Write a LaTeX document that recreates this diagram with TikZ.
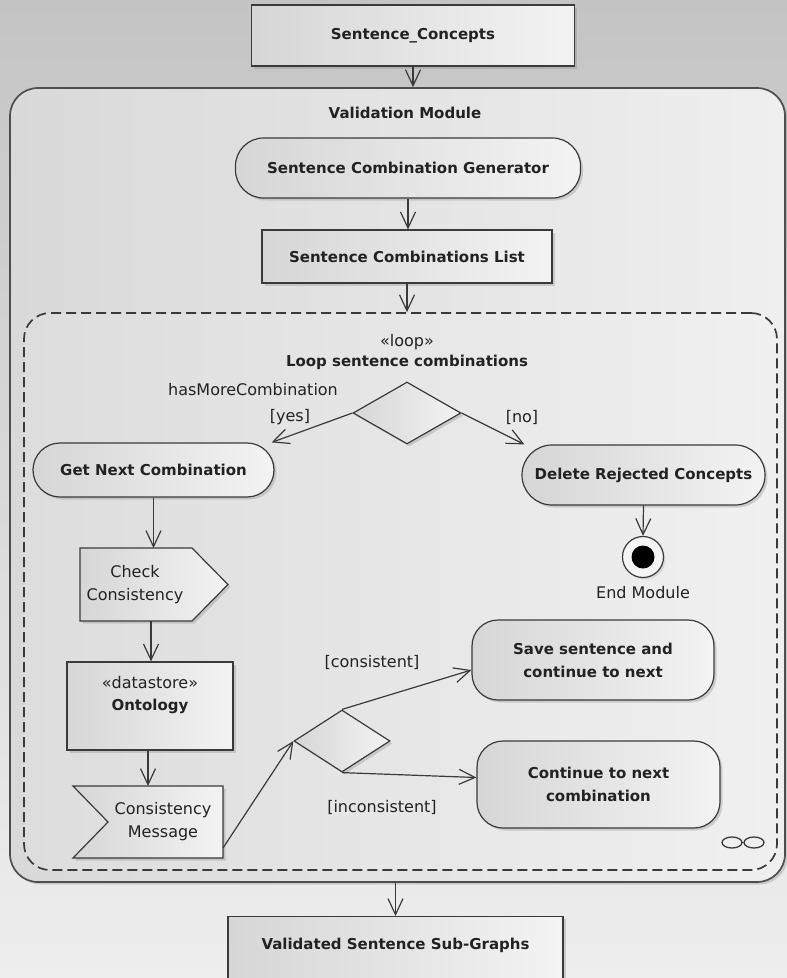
\documentclass[tikz,border=0pt]{standalone}
\usepackage{fontspec}
\setmainfont{DejaVu Sans}
\usetikzlibrary{arrows.meta,shapes.geometric,shadows}

\definecolor{edge}{HTML}{3A3A3A}
\definecolor{fillL}{HTML}{D6D6D6}
\definecolor{fillR}{HTML}{F3F3F3}
\definecolor{bgT}{HTML}{C4C4C4}
\definecolor{bgB}{HTML}{EEEEEE}
\definecolor{modL}{HTML}{D9D9D9}
\definecolor{modR}{HTML}{EFEFEF}
\definecolor{loopL}{HTML}{DDDDDD}
\definecolor{loopR}{HTML}{F0F0F0}
\definecolor{ink}{HTML}{222222}

\tikzset{
  base/.style={draw=edge, line width=1.2pt, left color=fillL, right color=fillR,
    drop shadow={shadow xshift=2.5pt, shadow yshift=-2.5pt, opacity=0.3},
    font=\bfseries\fontsize{15}{23}\selectfont, text=ink, align=center, inner sep=0pt},
  actbox/.style={base, rectangle},
  pill/.style={base, rounded corners=#1},
  pill/.default=26pt,
  outline/.style={draw=edge, line width=1.2pt, left color=fillL, right color=fillR,
    drop shadow={shadow xshift=2.5pt, shadow yshift=-2.5pt, opacity=0.3}},
  flow/.style={draw=edge, line width=1.2pt,
    -{Straight Barb[length=16pt, width=15pt, line width=1.2pt]}},
  lbl/.style={font=\fontsize{16}{23}\selectfont, text=ink, inner sep=0pt, align=center},
  ttl/.style={font=\bfseries\fontsize{15}{23}\selectfont, text=ink, inner sep=0pt, align=center},
  anchorbox/.style={inner sep=0pt, outer sep=0pt},
}

\begin{document}
\begin{tikzpicture}[x=1pt, y=-1pt]
  \clip (0,0) rectangle (787,978);
  \shade[top color=bgT, bottom color=bgB] (0,0) rectangle (787,978);

  % input object
  \node[actbox, minimum width=323pt, minimum height=61pt] (concepts) at (413,35.5) {Sentence\_Concepts};

  % module frame
  \node[draw=edge!90, line width=1.7pt, rounded corners=28pt, left color=modL, right color=modR,
        drop shadow={shadow xshift=2.5pt, shadow yshift=-2.5pt, opacity=0.3},
        minimum width=775pt, minimum height=794pt, inner sep=0pt] (module) at (397.5,485) {};
  \node[ttl] (modtitle) at (405,113) {Validation Module};

  \node[pill=28pt, minimum width=345pt, minimum height=60pt] (gen) at (408,168) {Sentence Combination Generator};
  \node[actbox, minimum width=290pt, minimum height=53pt] (list) at (407,256.5) {Sentence Combinations List};

  % loop region
  \node[draw=edge, line width=1.7pt, dash pattern=on 10pt off 5pt, rounded corners=26pt,
        left color=loopL, right color=loopR,
        minimum width=753pt, minimum height=557pt, inner sep=0pt] (loop) at (400.5,591.5) {};
  \node[lbl] (stereo) at (407,342) {«loop»};
  \node[ttl] (looptitle) at (407,362) {Loop sentence combinations};

  % loop decision
  \node[base, diamond, minimum width=108pt, minimum height=62pt] (d1) at (407,413) {};
  \node[lbl] (cond) at (253,390) {hasMoreCombination};
  \node[lbl] (yes) at (290,417) {[yes]};
  \node[lbl] (no) at (522,417) {[no]};

  \node[pill=27pt, minimum width=241pt, minimum height=54pt] (get) at (153.5,470) {Get Next Combination};
  \node[pill=30pt, minimum width=243pt, minimum height=60pt] (del) at (643.5,475) {Delete Rejected Concepts};

  % final node
  \node[circle, draw=edge, line width=1.2pt, fill=white!96!black, minimum size=41pt, inner sep=0pt,
        drop shadow={shadow xshift=2pt, shadow yshift=-2pt, opacity=0.2}] (endm) at (643,557) {};
  \fill[black] (endm.center) circle (11.5pt);
  \node[lbl] (endlbl) at (643,593) {End Module};

  % send signal action
  \node[anchorbox, minimum width=148pt, minimum height=73pt] (check) at (154,584.5) {};
  \path[outline] (check.north west) -- ([xshift=-36pt]check.north east) -- (check.east)
        -- ([xshift=-36pt]check.south east) -- (check.south west) -- cycle;
  \node[lbl] (checktxt) at (135,585) {Check\\Consistency};

  % datastore
  \node[actbox, minimum width=166pt, minimum height=88pt] (onto) at (150,706) {};
  \node[lbl] (ontost) at (150,683) {«datastore»};
  \node[ttl] (ontoname) at (150,706) {Ontology};

  % accept event action
  \node[anchorbox, minimum width=150pt, minimum height=72pt] (msg) at (148,822) {};
  \path[outline] (msg.north west) -- (msg.north east) -- (msg.south east) -- (msg.south west)
        -- ([xshift=35pt]msg.west) -- cycle;
  \node[lbl] (msgtxt) at (163,821.5) {Consistency\\Message};

  % consistency decision
  \node[base, diamond, minimum width=96pt, minimum height=62pt] (d2) at (342,741) {};
  \node[lbl] (cons) at (372,662) {[consistent]};
  \node[lbl] (incons) at (382,807) {[inconsistent]};

  \node[pill=26pt, minimum width=242pt, minimum height=80pt] (save) at (593,660) {Save sentence and\\continue to next};
  \node[pill=26pt, minimum width=243pt, minimum height=87pt] (cont) at (598.5,784.5) {Continue to next\\combination};

  % loop marker
  \draw[edge, line width=1.3pt] (732,842.5) ellipse [x radius=10pt, y radius=5.5pt];
  \draw[edge, line width=1.3pt] (754,842.5) ellipse [x radius=10pt, y radius=5.5pt];
  \draw[edge, line width=1.3pt] (741,842.5) -- (745,842.5);

  % output object
  \node[actbox, minimum width=335pt, minimum height=76pt, anchor=north] (valid) at (395.5,916) {};
  \node[ttl] (validtxt) at (395.5,945) {Validated Sentence Sub-Graphs};

  % control flows
  \draw[flow] (concepts.south) -- (concepts.south |- module.north);
  \draw[flow] (gen.south) -- (gen.south |- list.north);
  \draw[flow] (list.south) -- (list.south |- loop.north);
  \draw[flow] (d1.west) -- ([xshift=-3pt]get.north east);
  \draw[flow] (d1.east) -- ([xshift=3pt]del.north west);
  \draw[flow] (del.south) -- (endm.north);
  \draw[flow] (get.south) -- (get.south |- check.north);
  \draw[flow] ([xshift=-3pt]check.south) -- ([xshift=-3pt]check.south |- onto.north);
  \draw[flow] ([xshift=-2pt]onto.south) -- ([xshift=-2pt]onto.south |- msg.north);
  \draw[flow] ([yshift=10pt]msg.south east) -- (d2.west);
  \draw[flow] (d2.north) -- ([yshift=-10pt]save.west);
  \draw[flow] (d2.south) -- ([yshift=7pt]cont.west);
  \draw[flow] (valid.north |- module.south) -- (valid.north);
\end{tikzpicture}
\end{document}
